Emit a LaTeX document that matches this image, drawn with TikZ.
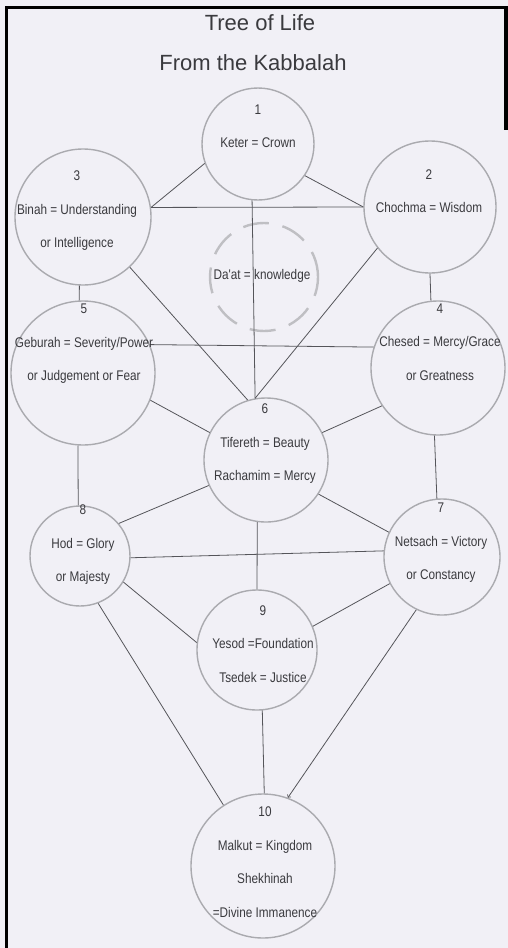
\documentclass[tikz,border=0pt]{standalone}
\usepackage{fontspec}
\setmainfont{Liberation Sans}
\newfontfamily\narrowfont[FakeStretch=0.84]{Liberation Sans}
\usetikzlibrary{arrows}
\definecolor{paper}{RGB}{241,240,246}
\definecolor{ink}{RGB}{58,58,62}
\definecolor{rim}{RGB}{170,170,175}
\definecolor{stroke}{RGB}{85,85,90}
\tikzset{
	x=1pt, y=-1pt,
	every node/.append style={align=center, text=ink},
	sefira/.style={draw=rim,
		line width=1.4pt,
		circle,
		inner sep=0pt},
	hidden/.style={sefira, draw=rim!75, line width=2.4pt, dash pattern=on 26pt off 14pt},
	txt/.style={font=\narrowfont\fontsize{14}{33.5}\selectfont},
	heading/.style={font=\fontsize{22}{26}\selectfont},
	link/.style={draw=stroke, line width=0.8pt}
}
\begin{document}
\begin{tikzpicture}

	% paper and frame
	\fill[paper] (0,0) rectangle (508,948);
	\useasboundingbox (0,0) rectangle (508,948);
	\fill[black] (5,6) rectangle (8,948);
	\fill[black] (5,6) rectangle (508,9);
	\fill[black] (504,6) rectangle (508,130);

	\node[heading] (title) at (260,23) {Tree of Life};
	\node[heading] (subtitle) at (253,63) {From the Kabbalah};

	% the sefirot
	\node[sefira, minimum size=112pt] (keter) at (258,144) {};
	\node[sefira, minimum size=132pt] (chochma) at (430,207) {};
	\node[sefira, minimum size=136pt] (binah) at (83,217) {};
	\node[hidden, minimum size=108pt] (daat) at (264,277) {};
	\node[sefira, minimum size=134pt] (chesed) at (438,368) {};
	\node[sefira, minimum size=144pt] (geburah) at (83,373) {};
	\node[sefira, minimum size=124pt] (tifereth) at (266,460) {};
	\node[sefira, minimum size=116pt] (netsach) at (442,557) {};
	\node[sefira, minimum size=100pt] (hod) at (80,556) {};
	\node[sefira, minimum size=120pt] (yesod) at (257,650) {};
	\node[sefira, minimum size=144pt] (malkut) at (263,866) {};

	% paths
	\draw[link] (binah.8) -- (keter.200);
	\draw[link] (keter.-34) -- (chochma.180);
	\draw[link] (binah.8) -- (chochma.180);
	\draw[link] (keter.264) -- (tifereth.100);
	\draw[link] (binah.-47) -- (tifereth.107);
	\draw[link] (chochma.218) -- (tifereth.100);
	\draw[link] (chochma.270) -- (chesed.96);
	\draw[link] (binah.267) -- (geburah.93);
	\draw[link] (geburah.23) -- (chesed.162);
	\draw[link] (geburah.-22) -- (tifereth.154);
	\draw[link] (chesed.214) -- (tifereth.26);
	\draw[link] (geburah.266) -- (hod.92);
	\draw[link] (chesed.267) -- (netsach.95);
	\draw[link] (hod.40) -- (tifereth.204);
	\draw[link] (tifereth.-33) -- (netsach.155);
	\draw[link] (tifereth.262) -- (yesod.90);
	\draw[link] (hod.-2) -- (netsach.174);
	\draw[link] (hod.-31) -- (yesod.173);
	\draw[link] (netsach.207) -- (yesod.23);
	\draw[link] (hod.-69) -- (malkut.123);
	\draw[link] (yesod.275) -- (malkut.89);
	\draw[link, ->] (netsach.244) -- (malkut.70);

	% names
	\node[txt] (keter-t) at (258,126) {1\\Keter = Crown};
	\node[txt] (chochma-t) at (429,191) {2\\Chochma = Wisdom};
	\node[txt] (binah-t) at (77,211) {3\\Binah = Understanding\\or Intelligence};
	\node[txt] (daat-t) at (262,276) {Da'at = knowledge};
	\node[txt] (chesed-t) at (440,342) {4\\Chesed = Mercy/Grace\\or Greatness};
	\node[txt] (geburah-t) at (84,344) {5\\Geburah = Severity/Power\\or Judgement or Fear};
	\node[txt] (tifereth-t) at (265,444) {6\\Tifereth = Beauty\\Rachamim = Mercy};
	\node[txt] (netsach-t) at (441,543) {7\\Netsach = Victory\\or Constancy};
	\node[txt] (hod-t) at (83,545) {8\\Hod = Glory\\or Majesty};
	\node[txt] (yesod-t) at (263,644) {9\\Yesod =Foundation\\Tsedek = Justice};
	\node[txt] (malkut-t) at (265,862) {10\\Malkut = Kingdom\\Shekhinah\\=Divine Immanence};

\end{tikzpicture}
\end{document}
